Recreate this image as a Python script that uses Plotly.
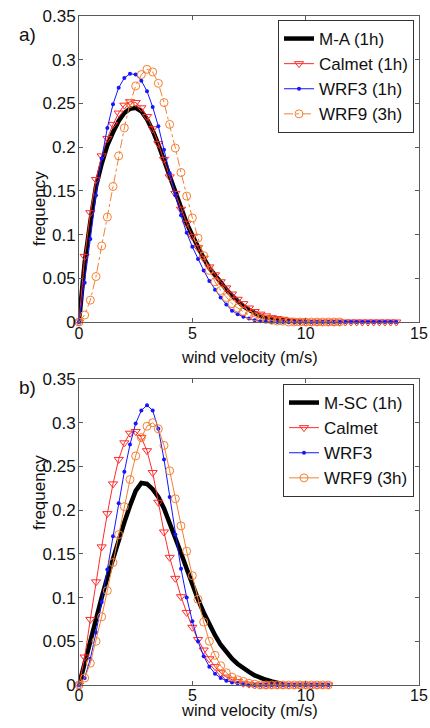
import plotly.graph_objects as go

# ---------------- data ----------------
# Panel a) wind speed grid (m/s)
wind_a_ma = [0.0, 0.25, 0.5, 0.75, 1.0, 1.25, 1.5, 1.75, 2.0, 2.25, 2.5, 2.75, 3.0, 3.25, 3.5, 3.75,
             4.0, 4.25, 4.5, 4.75, 5.0, 5.25, 5.5, 5.75, 6.0, 6.25, 6.5, 6.75, 7.0, 7.25, 7.5, 7.75,
             8.0, 8.25, 8.5, 8.75, 9.0, 9.25, 9.5, 9.75, 10.0]
wind_a_full = [0.0, 0.25, 0.5, 0.75, 1.0, 1.25, 1.5, 1.75, 2.0, 2.25, 2.5, 2.75, 3.0, 3.25, 3.5, 3.75,
               4.0, 4.25, 4.5, 4.75, 5.0, 5.25, 5.5, 5.75, 6.0, 6.25, 6.5, 6.75, 7.0, 7.25, 7.5, 7.75,
               8.0, 8.25, 8.5, 8.75, 9.0, 9.25, 9.5, 9.75, 10.0, 10.25, 10.5, 10.75, 11.0, 11.25, 11.5,
               11.75, 12.0, 12.25, 12.5, 12.75, 13.0, 13.25, 13.5, 13.75, 14.0]
wind_a_wrf9 = [0.0, 0.25, 0.5, 0.75, 1.0, 1.25, 1.5, 1.75, 2.0, 2.25, 2.5, 2.75, 3.0, 3.25, 3.5, 3.75,
               4.0, 4.25, 4.5, 4.75, 5.0, 5.25, 5.5, 5.75, 6.0, 6.25, 6.5, 6.75, 7.0, 7.25, 7.5, 7.75,
               8.0, 8.25, 8.5, 8.75, 9.0, 9.25, 9.5, 9.75, 10.0, 10.25, 10.5, 10.75, 11.0, 11.25, 11.5]

freq_a_ma = [0.000, 0.068, 0.115, 0.155, 0.181, 0.202, 0.217, 0.230, 0.239, 0.244, 0.245, 0.241, 0.232,
             0.219, 0.203, 0.185, 0.166, 0.147, 0.129, 0.113, 0.099, 0.085, 0.073, 0.062, 0.053, 0.045,
             0.037, 0.030, 0.024, 0.018, 0.014, 0.010, 0.007, 0.005, 0.004, 0.003, 0.002, 0.001, 0.001,
             0.000, 0.000]
freq_a_calmet = [0.000, 0.075, 0.125, 0.163, 0.190, 0.210, 0.226, 0.239, 0.248, 0.252, 0.251, 0.245,
                 0.235, 0.221, 0.204, 0.186, 0.166, 0.147, 0.129, 0.113, 0.098, 0.085, 0.073, 0.063,
                 0.054, 0.046, 0.039, 0.032, 0.026, 0.021, 0.016, 0.012, 0.009, 0.007, 0.005, 0.004,
                 0.003, 0.002, 0.001, 0.001, 0.000, 0.000, 0.000, 0.000, 0.000, 0.000, 0.000, 0.000,
                 0.000, 0.000, 0.000, 0.000, 0.000, 0.000, 0.000, 0.000, 0.000]
freq_a_wrf3 = [0.000, 0.045, 0.095, 0.145, 0.187, 0.222, 0.249, 0.268, 0.279, 0.284, 0.283, 0.276,
               0.264, 0.246, 0.224, 0.197, 0.170, 0.145, 0.122, 0.102, 0.086, 0.072, 0.059, 0.047,
               0.037, 0.028, 0.020, 0.013, 0.009, 0.006, 0.004, 0.002, 0.001, 0.001, 0.000, 0.000,
               0.000, 0.000, 0.000, 0.000, 0.000, 0.000, 0.000, 0.000, 0.000, 0.000, 0.000, 0.000,
               0.000, 0.000, 0.000, 0.000, 0.000, 0.000, 0.000, 0.000, 0.000]
freq_a_wrf9 = [0.000, 0.008, 0.025, 0.052, 0.087, 0.120, 0.155, 0.190, 0.222, 0.250, 0.270, 0.283,
               0.289, 0.286, 0.273, 0.251, 0.226, 0.199, 0.171, 0.144, 0.119, 0.096, 0.076, 0.059,
               0.046, 0.036, 0.028, 0.021, 0.016, 0.012, 0.008, 0.006, 0.004, 0.003, 0.002, 0.001,
               0.001, 0.000, 0.000, 0.000, 0.000, 0.000, 0.000, 0.000, 0.000, 0.000, 0.000]

# Panel b)
wind_b_msc = [0.0, 0.25, 0.5, 0.75, 1.0, 1.25, 1.5, 1.75, 2.0, 2.25, 2.5, 2.75, 3.0, 3.25, 3.5, 3.75,
              4.0, 4.25, 4.5, 4.75, 5.0, 5.25, 5.5, 5.75, 6.0, 6.25, 6.5, 6.75, 7.0, 7.25, 7.5, 7.75,
              8.0, 8.25, 8.5, 8.75, 9.0]
wind_b_full = [0.0, 0.25, 0.5, 0.75, 1.0, 1.25, 1.5, 1.75, 2.0, 2.25, 2.5, 2.75, 3.0, 3.25, 3.5, 3.75,
               4.0, 4.25, 4.5, 4.75, 5.0, 5.25, 5.5, 5.75, 6.0, 6.25, 6.5, 6.75, 7.0, 7.25, 7.5, 7.75,
               8.0, 8.25, 8.5, 8.75, 9.0, 9.25, 9.5, 9.75, 10.0, 10.25, 10.5, 10.75, 11.0]

freq_b_msc = [0.000, 0.026, 0.052, 0.077, 0.100, 0.123, 0.145, 0.166, 0.186, 0.205, 0.222, 0.231,
              0.230, 0.224, 0.215, 0.202, 0.186, 0.169, 0.151, 0.133, 0.115, 0.098, 0.083, 0.069,
              0.057, 0.046, 0.037, 0.030, 0.024, 0.019, 0.015, 0.011, 0.008, 0.006, 0.004, 0.002,
              0.001]
freq_b_calmet = [0.000, 0.032, 0.075, 0.118, 0.158, 0.196, 0.230, 0.258, 0.277, 0.288, 0.290, 0.283,
                 0.268, 0.243, 0.209, 0.175, 0.146, 0.122, 0.101, 0.083, 0.066, 0.052, 0.040, 0.030,
                 0.021, 0.014, 0.009, 0.006, 0.004, 0.002, 0.001, 0.000, 0.000, 0.000, 0.000, 0.000,
                 0.000, 0.000, 0.000, 0.000, 0.000, 0.000, 0.000, 0.000, 0.000]
freq_b_wrf3 = [0.000, 0.008, 0.030, 0.060, 0.095, 0.132, 0.170, 0.208, 0.244, 0.275, 0.299, 0.314,
               0.320, 0.314, 0.293, 0.258, 0.215, 0.172, 0.133, 0.100, 0.073, 0.050, 0.033, 0.021,
               0.013, 0.008, 0.005, 0.003, 0.002, 0.001, 0.000, 0.000, 0.000, 0.000, 0.000, 0.000,
               0.000, 0.000, 0.000, 0.000, 0.000, 0.000, 0.000, 0.000, 0.000]
freq_b_wrf9 = [0.000, 0.008, 0.025, 0.050, 0.078, 0.108, 0.140, 0.172, 0.204, 0.235, 0.262, 0.283,
               0.296, 0.300, 0.293, 0.274, 0.245, 0.213, 0.182, 0.153, 0.125, 0.098, 0.072, 0.050,
               0.034, 0.022, 0.014, 0.009, 0.006, 0.004, 0.002, 0.001, 0.000, 0.000, 0.000, 0.000,
               0.000, 0.000, 0.000, 0.000, 0.000, 0.000, 0.000, 0.000, 0.000]

x_ticks = [0, 5, 10, 15]
y_ticks = [0, 0.05, 0.1, 0.15, 0.2, 0.25, 0.3, 0.35]
y_tick_text = ["0", "0.05", "0.1", "0.15", "0.2", "0.25", "0.3", "0.35"]

# ---------------- styling ----------------
W, H = 430, 728
FONT = "Liberation Sans, Arial, sans-serif"
BLACK = "#000000"
RED = "#FF2A2A"
BLUE = "#1515FF"
ORANGE = "#F58032"
AXIS = "#5a5a5a"

def px_x(p):
    return p / W

def px_y(p):
    return 1 - p / H

fig = go.Figure()

def add_panel(xa, ya, leg, series):
    for name, x, y, kind, dash in series:
        common = dict(x=x, y=y, name=name, xaxis=xa, yaxis=ya, legend=leg, cliponaxis=False)
        if kind == "thick":
            fig.add_trace(go.Scatter(mode="lines", line=dict(color=BLACK, width=4.5), **common))
        elif kind == "tri":
            fig.add_trace(go.Scatter(mode="lines+markers", line=dict(color=RED, width=1),
                                     marker=dict(symbol="triangle-down-open", size=8, color=RED,
                                                 line=dict(width=1, color=RED)), **common))
        elif kind == "dot":
            fig.add_trace(go.Scatter(mode="lines+markers", line=dict(color=BLUE, width=1),
                                     marker=dict(symbol="circle", size=4, color=BLUE), **common))
        elif kind == "circ":
            fig.add_trace(go.Scatter(mode="lines+markers", line=dict(color=ORANGE, width=1, dash=dash),
                                     marker=dict(symbol="circle-open", size=8, color=ORANGE,
                                                 line=dict(width=1, color=ORANGE)), **common))

add_panel("x", "y", "legend", [
    ("M-A (1h)", wind_a_ma, freq_a_ma, "thick", None),
    ("Calmet (1h)", wind_a_full, freq_a_calmet, "tri", None),
    ("WRF3 (1h)", wind_a_full, freq_a_wrf3, "dot", None),
    ("WRF9 (3h)", wind_a_wrf9, freq_a_wrf9, "circ", "dashdot"),
])
add_panel("x2", "y2", "legend2", [
    ("M-SC (1h)", wind_b_msc, freq_b_msc, "thick", None),
    ("Calmet", wind_b_full, freq_b_calmet, "tri", None),
    ("WRF3", wind_b_full, freq_b_wrf3, "dot", None),
    ("WRF9 (3h)", wind_b_full, freq_b_wrf9, "circ", "solid"),
])

xdom = [px_x(79), px_x(419)]
ydom_a = [px_y(322), px_y(16)]
ydom_b = [px_y(685), px_y(379)]

axis_common = dict(showline=True, linecolor=AXIS, linewidth=1, mirror="ticks", ticks="inside",
                   ticklen=4, tickcolor=AXIS, showgrid=False, zeroline=False, automargin=False)

xtickfont = dict(family=FONT, size=16, color="#111")
xax_a = dict(range=[0, 15], tickvals=x_ticks, ticklabelstandoff=-3, tickfont=xtickfont,
             **axis_common)
xax_b = dict(range=[0, 15], tickvals=x_ticks, ticklabelstandoff=-4, tickfont=xtickfont,
             **axis_common)
yax = dict(range=[0, 0.35], tickvals=y_ticks, ticktext=y_tick_text, ticklabelstandoff=-1,
           tickfont=dict(family=FONT, size=17, color="#111"), **axis_common)

legend_common = dict(bgcolor="white", bordercolor="#333", borderwidth=1,
                     font=dict(family=FONT, size=17, color="#111"),
                     xanchor="right", yanchor="top", tracegroupgap=0, itemwidth=30)

annotations = []
for lab, ytop in (("a)", 22), ("b)", 387)):
    annotations.append(dict(text=lab, x=px_x(17), y=px_y(ytop), xref="paper", yref="paper",
                            showarrow=False, font=dict(family=FONT, size=19, color="#111")))
for yc in (169, 532):
    annotations.append(dict(text="frequency", x=px_x(28), y=px_y(yc), xref="paper", yref="paper",
                            textangle=-90, showarrow=False,
                            font=dict(family=FONT, size=17, color="#111")))
for yc in (357, 720):
    annotations.append(dict(text="wind velocity (m/s)", x=px_x(249), y=px_y(yc), xref="paper",
                            yref="paper", showarrow=False, borderpad=0,
                            font=dict(family=FONT, size=16.5, color="#111")))

fig.update_layout(
    width=W, height=H,
    margin=dict(l=0, r=0, t=0, b=0, autoexpand=False),
    paper_bgcolor="white", plot_bgcolor="white",
    showlegend=True,
    xaxis=dict(domain=xdom, anchor="y", **xax_a),
    yaxis=dict(domain=ydom_a, anchor="x", **yax),
    xaxis2=dict(domain=xdom, anchor="y2", **xax_b),
    yaxis2=dict(domain=ydom_b, anchor="x2", **yax),
    legend=dict(x=px_x(414), y=px_y(20), **legend_common),
    legend2=dict(x=px_x(414), y=px_y(384), **legend_common),
    annotations=annotations,
)

fig.write_html("out.html", config={"displayModeBar": False},
               post_script="document.body.style.margin='0';document.body.style.padding='0';"
                           "document.body.style.overflow='hidden';")
